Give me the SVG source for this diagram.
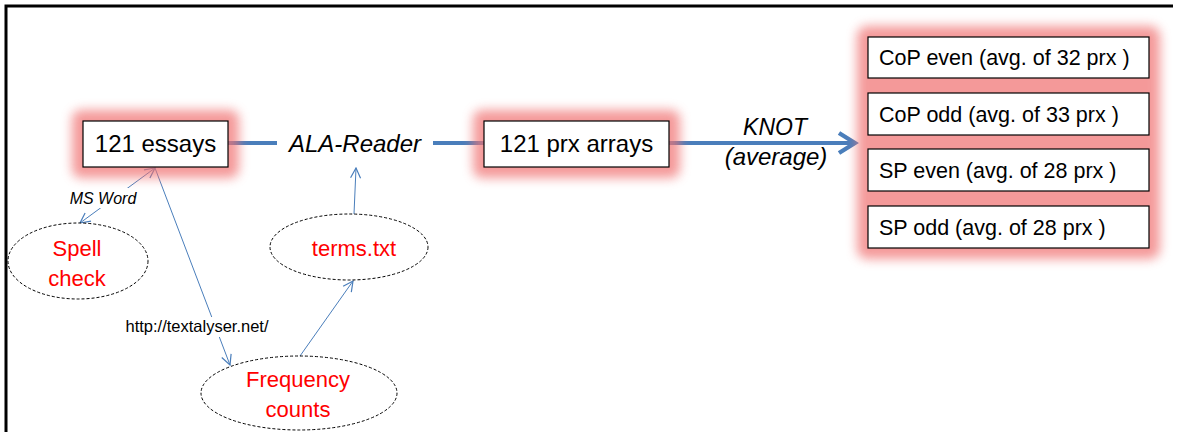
<svg xmlns="http://www.w3.org/2000/svg" width="1178" height="432" viewBox="0 0 1178 432">
  <style>
    .box { fill: #ffffff; stroke: #000000; stroke-width: 1.2; }
    .glow { fill: #f07272; opacity: 0.72; filter: url(#soft); }
    .t { font-family: "Liberation Sans", Arial, sans-serif; fill: #000000; }
    .it { font-family: "Liberation Sans", Arial, sans-serif; font-style: italic; fill: #000000; }
    .red { font-family: "Liberation Sans", Arial, sans-serif; fill: #ff0000; font-size: 22px; text-anchor: middle; }
    .oval { fill: #ffffff; stroke: #000000; stroke-width: 1; stroke-dasharray: 3 2; }
    .thick { stroke: #4a7ebb; stroke-width: 4; fill: none; }
    .thin { stroke: #4a7ebb; stroke-width: 1; fill: none; }
  </style>
  <defs>
    <filter id="soft" x="-20%" y="-40%" width="140%" height="180%">
      <feGaussianBlur stdDeviation="5.5"/>
    </filter>
    <marker id="openHead" viewBox="0 0 12 12" refX="11" refY="6" markerWidth="12" markerHeight="12" markerUnits="userSpaceOnUse" orient="auto-start-reverse">
      <path d="M1,1 L11,6 L1,11" fill="none" stroke="#4a7ebb" stroke-width="1.2"/>
    </marker>
    <marker id="bigHead" viewBox="0 0 12 12" refX="10" refY="6" markerWidth="6" markerHeight="6" orient="auto">
      <path d="M2,1 L10,6 L2,11" fill="none" stroke="#4a7ebb" stroke-width="2.2" stroke-linejoin="miter"/>
    </marker>
  </defs>

  <rect width="1178" height="432" fill="#ffffff"/>
  <!-- frame -->
  <path d="M6,432 L6,6 L1173,6" fill="none" stroke="#000000" stroke-width="3"/>

  <!-- connectors -->
  <g id="connectors">
    <line class="thick" x1="228" y1="143" x2="277" y2="143"/>
    <line class="thick" x1="433" y1="143" x2="484" y2="143"/>
    <line class="thick" x1="669" y1="143" x2="855" y2="143" marker-end="url(#bigHead)"/>
    <line class="thin" x1="155" y1="168" x2="80" y2="223" marker-start="url(#openHead)" marker-end="url(#openHead)"/>
    <line class="thin" x1="155" y1="168" x2="230" y2="365" marker-end="url(#openHead)"/>
    <line class="thin" x1="300" y1="356" x2="353" y2="281" marker-end="url(#openHead)"/>
    <line class="thin" x1="354" y1="214" x2="356" y2="168" marker-end="url(#openHead)"/>
    <!-- connector labels -->
    <rect x="66" y="188" width="74" height="20" fill="#ffffff"/>
    <text class="it" x="103" y="204" font-size="16" text-anchor="middle">MS Word</text>
    <rect x="118" y="317" width="160" height="20" fill="#ffffff"/>
    <text class="t" x="197" y="332" font-size="16.5" text-anchor="middle">http://textalyser.net/</text>
    <text class="it" x="775" y="135" font-size="23" text-anchor="middle">KNOT</text>
    <text class="it" x="776" y="165" font-size="24" text-anchor="middle">(average)</text>
  </g>

  <g id="essays">
    <rect class="glow" x="72" y="110" width="167" height="68" rx="9"/>
    <rect class="box" x="83" y="121" width="145" height="46"/>
    <text class="t" x="155.5" y="152" font-size="24" text-anchor="middle">121 essays</text>
  </g>

  <g id="ala-reader">
    <text class="it" x="355" y="152" font-size="24" text-anchor="middle">ALA-Reader</text>
  </g>

  <g id="prx-arrays">
    <rect class="glow" x="473" y="110" width="207" height="68" rx="9"/>
    <rect class="box" x="484" y="121" width="185" height="46"/>
    <text class="t" x="576.5" y="152" font-size="24" text-anchor="middle">121 prx arrays</text>
  </g>

  <g id="groups">
    <rect class="glow" x="857" y="26" width="303" height="233" rx="10"/>
    <g id="cop-even">
      <rect class="box" x="868" y="37" width="281" height="41"/>
      <text class="t" x="879" y="65" font-size="21.5">CoP even (avg. of 32 prx )</text>
    </g>
    <g id="cop-odd">
      <rect class="box" x="868" y="93" width="281" height="42"/>
      <text class="t" x="879" y="122" font-size="21.5">CoP odd (avg. of 33 prx )</text>
    </g>
    <g id="sp-even">
      <rect class="box" x="868" y="149" width="281" height="42"/>
      <text class="t" x="879" y="178" font-size="21.5">SP even (avg. of 28 prx )</text>
    </g>
    <g id="sp-odd">
      <rect class="box" x="868" y="206" width="281" height="42"/>
      <text class="t" x="879" y="235" font-size="21.5">SP odd (avg. of 28 prx )</text>
    </g>
  </g>

  <g id="spell-check">
    <ellipse class="oval" cx="78" cy="261" rx="70" ry="38"/>
    <text class="red" x="77" y="256">Spell</text>
    <text class="red" x="77" y="286">check</text>
  </g>

  <g id="terms">
    <ellipse class="oval" cx="349" cy="247" rx="79" ry="33"/>
    <text class="red" x="354" y="256">terms.txt</text>
  </g>

  <g id="frequency">
    <ellipse class="oval" cx="299" cy="393" rx="98" ry="37"/>
    <text class="red" x="298" y="387">Frequency</text>
    <text class="red" x="298" y="417">counts</text>
  </g>
</svg>
